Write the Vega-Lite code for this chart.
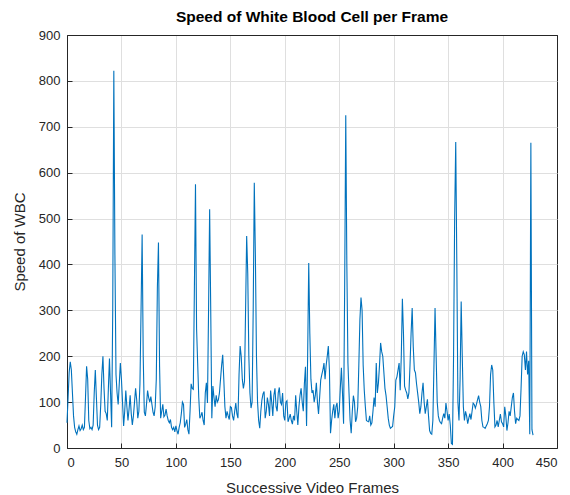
{
  "$schema": "https://vega.github.io/schema/vega-lite/v6.json",
  "width": 490,
  "height": 413,
  "autosize": {"type": "none"},
  "padding": {"left": 67, "top": 35, "right": 13, "bottom": 47},
  "background": "white",
  "title": {"text": "Speed of White Blood Cell per Frame", "fontSize": 15.5, "fontWeight": "bold", "font": "Liberation Sans", "color": "#000000", "offset": 4},
  "config": {"view": {"stroke": "#262626", "strokeWidth": 1}, "font": "Liberation Sans"},
  "data": {"values": [
    {"f":0,"s":55},{"f":1,"s":110},{"f":2,"s":165},{"f":3,"s":188},{"f":4,"s":170},{"f":5,"s":120},{"f":6,"s":70},{"f":7,"s":45},{"f":8,"s":35},{"f":9,"s":30},
    {"f":10,"s":40},{"f":11,"s":48},{"f":12,"s":38},{"f":13,"s":42},{"f":14,"s":50},{"f":15,"s":40},{"f":16,"s":45},{"f":17,"s":110},{"f":18,"s":178},{"f":19,"s":150},
    {"f":20,"s":60},{"f":21,"s":42},{"f":22,"s":45},{"f":23,"s":40},{"f":24,"s":50},{"f":25,"s":120},{"f":26,"s":170},{"f":27,"s":110},{"f":28,"s":50},{"f":29,"s":40},
    {"f":30,"s":45},{"f":31,"s":95},{"f":32,"s":160},{"f":33,"s":200},{"f":34,"s":130},{"f":35,"s":80},{"f":36,"s":75},{"f":37,"s":60},{"f":38,"s":130},{"f":39,"s":195},
    {"f":40,"s":120},{"f":41,"s":45},{"f":42,"s":300},{"f":43,"s":822},{"f":44,"s":420},{"f":45,"s":160},{"f":46,"s":120},{"f":47,"s":95},{"f":48,"s":140},{"f":49,"s":185},
    {"f":50,"s":150},{"f":51,"s":100},{"f":52,"s":48},{"f":53,"s":80},{"f":54,"s":125},{"f":55,"s":90},{"f":56,"s":60},{"f":57,"s":85},{"f":58,"s":115},{"f":59,"s":75},
    {"f":60,"s":50},{"f":61,"s":70},{"f":62,"s":100},{"f":63,"s":130},{"f":64,"s":105},{"f":65,"s":65},{"f":66,"s":80},{"f":67,"s":140},{"f":68,"s":300},{"f":69,"s":465},
    {"f":70,"s":200},{"f":71,"s":78},{"f":72,"s":70},{"f":73,"s":95},{"f":74,"s":125},{"f":75,"s":110},{"f":76,"s":100},{"f":77,"s":112},{"f":78,"s":95},{"f":79,"s":78},
    {"f":80,"s":70},{"f":81,"s":90},{"f":82,"s":150},{"f":83,"s":350},{"f":84,"s":448},{"f":85,"s":180},{"f":86,"s":65},{"f":87,"s":80},{"f":88,"s":95},{"f":89,"s":68},
    {"f":90,"s":72},{"f":91,"s":85},{"f":92,"s":70},{"f":93,"s":60},{"f":94,"s":55},{"f":95,"s":62},{"f":96,"s":45},{"f":97,"s":40},{"f":98,"s":45},{"f":99,"s":35},
    {"f":100,"s":48},{"f":101,"s":38},{"f":102,"s":30},{"f":103,"s":45},{"f":104,"s":55},{"f":105,"s":75},{"f":106,"s":100},{"f":107,"s":95},{"f":108,"s":45},{"f":109,"s":52},
    {"f":110,"s":62},{"f":111,"s":40},{"f":112,"s":30},{"f":113,"s":80},{"f":114,"s":140},{"f":115,"s":130},{"f":116,"s":128},{"f":117,"s":350},{"f":118,"s":575},{"f":119,"s":260},
    {"f":120,"s":185},{"f":121,"s":110},{"f":122,"s":65},{"f":123,"s":70},{"f":124,"s":78},{"f":125,"s":60},{"f":126,"s":50},{"f":127,"s":120},{"f":128,"s":142},{"f":129,"s":98},
    {"f":130,"s":300},{"f":131,"s":520},{"f":132,"s":300},{"f":133,"s":65},{"f":134,"s":135},{"f":135,"s":110},{"f":136,"s":90},{"f":137,"s":115},{"f":138,"s":100},{"f":139,"s":105},
    {"f":140,"s":120},{"f":141,"s":150},{"f":142,"s":180},{"f":143,"s":203},{"f":144,"s":150},{"f":145,"s":90},{"f":146,"s":65},{"f":147,"s":80},{"f":148,"s":70},{"f":149,"s":62},
    {"f":150,"s":90},{"f":151,"s":88},{"f":152,"s":70},{"f":153,"s":60},{"f":154,"s":80},{"f":155,"s":98},{"f":156,"s":75},{"f":157,"s":65},{"f":158,"s":160},{"f":159,"s":222},
    {"f":160,"s":200},{"f":161,"s":150},{"f":162,"s":130},{"f":163,"s":145},{"f":164,"s":300},{"f":165,"s":462},{"f":166,"s":380},{"f":167,"s":200},{"f":168,"s":120},{"f":169,"s":87},
    {"f":170,"s":100},{"f":171,"s":300},{"f":172,"s":578},{"f":173,"s":420},{"f":174,"s":200},{"f":175,"s":100},{"f":176,"s":60},{"f":177,"s":43},{"f":178,"s":80},{"f":179,"s":105},
    {"f":180,"s":118},{"f":181,"s":123},{"f":182,"s":65},{"f":183,"s":80},{"f":184,"s":110},{"f":185,"s":95},{"f":186,"s":70},{"f":187,"s":125},{"f":188,"s":100},{"f":189,"s":70},
    {"f":190,"s":115},{"f":191,"s":130},{"f":192,"s":90},{"f":193,"s":80},{"f":194,"s":120},{"f":195,"s":132},{"f":196,"s":100},{"f":197,"s":95},{"f":198,"s":120},{"f":199,"s":70},
    {"f":200,"s":60},{"f":201,"s":100},{"f":202,"s":103},{"f":203,"s":57},{"f":204,"s":65},{"f":205,"s":74},{"f":206,"s":60},{"f":207,"s":52},{"f":208,"s":70},{"f":209,"s":60},
    {"f":210,"s":115},{"f":211,"s":80},{"f":212,"s":50},{"f":213,"s":90},{"f":214,"s":115},{"f":215,"s":130},{"f":216,"s":100},{"f":217,"s":80},{"f":218,"s":140},{"f":219,"s":177},
    {"f":220,"s":48},{"f":221,"s":200},{"f":222,"s":403},{"f":223,"s":250},{"f":224,"s":150},{"f":225,"s":120},{"f":226,"s":126},{"f":227,"s":100},{"f":228,"s":114},{"f":229,"s":142},
    {"f":230,"s":100},{"f":231,"s":74},{"f":232,"s":110},{"f":233,"s":148},{"f":234,"s":160},{"f":235,"s":170},{"f":236,"s":185},{"f":237,"s":150},{"f":238,"s":180},{"f":239,"s":200},
    {"f":240,"s":222},{"f":241,"s":170},{"f":242,"s":32},{"f":243,"s":60},{"f":244,"s":80},{"f":245,"s":95},{"f":246,"s":65},{"f":247,"s":90},{"f":248,"s":98},{"f":249,"s":65},
    {"f":250,"s":80},{"f":251,"s":130},{"f":252,"s":175},{"f":253,"s":120},{"f":254,"s":53},{"f":255,"s":350},{"f":256,"s":725},{"f":257,"s":400},{"f":258,"s":185},{"f":259,"s":120},
    {"f":260,"s":60},{"f":261,"s":32},{"f":262,"s":80},{"f":263,"s":114},{"f":264,"s":100},{"f":265,"s":57},{"f":266,"s":65},{"f":267,"s":90},{"f":268,"s":180},{"f":269,"s":280},
    {"f":270,"s":328},{"f":271,"s":300},{"f":272,"s":180},{"f":273,"s":126},{"f":274,"s":90},{"f":275,"s":60},{"f":276,"s":58},{"f":277,"s":57},{"f":278,"s":70},{"f":279,"s":50},
    {"f":280,"s":55},{"f":281,"s":80},{"f":282,"s":110},{"f":283,"s":90},{"f":284,"s":185},{"f":285,"s":120},{"f":286,"s":142},{"f":287,"s":180},{"f":288,"s":229},{"f":289,"s":210},
    {"f":290,"s":200},{"f":291,"s":165},{"f":292,"s":130},{"f":293,"s":114},{"f":294,"s":90},{"f":295,"s":65},{"f":296,"s":50},{"f":297,"s":43},{"f":298,"s":45},{"f":299,"s":47},
    {"f":300,"s":70},{"f":301,"s":90},{"f":302,"s":148},{"f":303,"s":155},{"f":304,"s":170},{"f":305,"s":185},{"f":306,"s":126},{"f":307,"s":200},{"f":308,"s":325},{"f":309,"s":250},
    {"f":310,"s":135},{"f":311,"s":126},{"f":312,"s":120},{"f":313,"s":107},{"f":314,"s":120},{"f":315,"s":180},{"f":316,"s":250},{"f":317,"s":305},{"f":318,"s":220},{"f":319,"s":170},
    {"f":320,"s":164},{"f":321,"s":140},{"f":322,"s":120},{"f":323,"s":100},{"f":324,"s":75},{"f":325,"s":90},{"f":326,"s":120},{"f":327,"s":142},{"f":328,"s":100},{"f":329,"s":75},
    {"f":330,"s":90},{"f":331,"s":106},{"f":332,"s":70},{"f":333,"s":38},{"f":334,"s":32},{"f":335,"s":30},{"f":336,"s":60},{"f":337,"s":180},{"f":338,"s":305},{"f":339,"s":200},
    {"f":340,"s":100},{"f":341,"s":70},{"f":342,"s":60},{"f":343,"s":55},{"f":344,"s":53},{"f":345,"s":65},{"f":346,"s":75},{"f":347,"s":65},{"f":348,"s":98},{"f":349,"s":80},
    {"f":350,"s":60},{"f":351,"s":74},{"f":352,"s":50},{"f":353,"s":10},{"f":354,"s":8},{"f":355,"s":200},{"f":356,"s":500},{"f":357,"s":667},{"f":358,"s":400},{"f":359,"s":100},
    {"f":360,"s":60},{"f":361,"s":150},{"f":362,"s":319},{"f":363,"s":200},{"f":364,"s":90},{"f":365,"s":60},{"f":366,"s":80},{"f":367,"s":70},{"f":368,"s":53},{"f":369,"s":65},
    {"f":370,"s":75},{"f":371,"s":62},{"f":372,"s":80},{"f":373,"s":98},{"f":374,"s":95},{"f":375,"s":87},{"f":376,"s":95},{"f":377,"s":105},{"f":378,"s":114},{"f":379,"s":100},
    {"f":380,"s":90},{"f":381,"s":60},{"f":382,"s":46},{"f":383,"s":45},{"f":384,"s":43},{"f":385,"s":48},{"f":386,"s":53},{"f":387,"s":60},{"f":388,"s":90},{"f":389,"s":160},
    {"f":390,"s":181},{"f":391,"s":170},{"f":392,"s":100},{"f":393,"s":46},{"f":394,"s":50},{"f":395,"s":60},{"f":396,"s":46},{"f":397,"s":60},{"f":398,"s":74},{"f":399,"s":57},
    {"f":400,"s":53},{"f":401,"s":46},{"f":402,"s":90},{"f":403,"s":70},{"f":404,"s":38},{"f":405,"s":55},{"f":406,"s":80},{"f":407,"s":70},{"f":408,"s":90},{"f":409,"s":110},
    {"f":410,"s":120},{"f":411,"s":80},{"f":412,"s":53},{"f":413,"s":65},{"f":414,"s":62},{"f":415,"s":60},{"f":416,"s":70},{"f":417,"s":130},{"f":418,"s":200},{"f":419,"s":210},
    {"f":420,"s":203},{"f":421,"s":170},{"f":422,"s":210},{"f":423,"s":160},{"f":424,"s":190},{"f":425,"s":30},{"f":426,"s":665},{"f":427,"s":40},{"f":428,"s":28}
  ]},
  "mark": {"type": "line", "color": "#0072BD", "strokeWidth": 1.1},
  "encoding": {
    "x": {"field": "f", "type": "quantitative", "scale": {"domain": [0, 450], "nice": false},
      "axis": {"orient": "bottom", "values": [0,50,100,150,200,250,300,350,400,450], "title": "Successive Video Frames", "titleFontSize": 15, "titleFontWeight": "normal", "titleColor": "#262626", "titlePadding": 11, "labelFontSize": 13, "labelColor": "#262626", "labelPadding": 13, "ticks": true, "tickSize": -5, "tickColor": "#262626", "grid": true,
        "gridColor": {"condition": {"test": "datum.value >= 450", "value": "#262626"}, "value": "#dfdfdf"}, "domain": true, "domainColor": "#262626"}},
    "y": {"field": "s", "type": "quantitative", "scale": {"domain": [0, 900], "nice": false},
      "axis": {"orient": "left", "values": [0,100,200,300,400,500,600,700,800,900], "title": "Speed of WBC", "titleFontSize": 15, "titleFontWeight": "normal", "titleColor": "#262626", "titlePadding": 11, "labelFontSize": 13, "labelColor": "#262626", "labelPadding": 12, "ticks": true, "tickSize": -5, "tickColor": "#262626", "grid": true,
        "gridColor": {"condition": {"test": "datum.value >= 900", "value": "#262626"}, "value": "#dfdfdf"}, "domain": true, "domainColor": "#262626"}}
  }
}
